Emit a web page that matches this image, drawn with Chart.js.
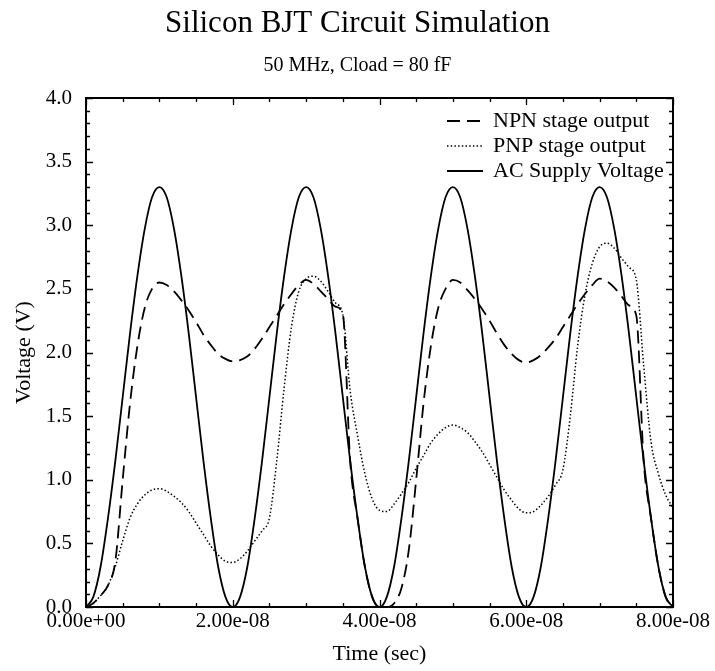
<!DOCTYPE html>
<html>
<head>
<meta charset="utf-8">
<title>Silicon BJT Circuit Simulation</title>
<script src="https://cdn.jsdelivr.net/npm/chart.js@4.4.1/dist/chart.umd.min.js"></script>
<style>
  html, body { margin: 0; padding: 0; background: #fff; }
  #wrap { width: 715px; height: 671px; }
</style>
</head>
<body>
<div id="wrap"><canvas id="bjtChart" width="715" height="671"></canvas></div>
<script>
// time axis in ns (0 .. 80 ns, every 1 ns)
const timeNs = [
  0, 1, 2, 3, 4, 5, 6, 7, 8, 9, 10,
  11, 12, 13, 14, 15, 16, 17, 18, 19, 20,
  21, 22, 23, 24, 25, 26, 27, 28, 29, 30,
  31, 32, 33, 34, 35, 36, 37, 38, 39, 40,
  41, 42, 43, 44, 45, 46, 47, 48, 49, 50,
  51, 52, 53, 54, 55, 56, 57, 58, 59, 60,
  61, 62, 63, 64, 65, 66, 67, 68, 69, 70,
  71, 72, 73, 74, 75, 76, 77, 78, 79, 80
];

// NPN stage output (V)
const npnOut = [
  0.00, 0.03, 0.09, 0.17, 0.36, 1.00, 1.60, 2.05, 2.35, 2.50, 2.55,
  2.53, 2.48, 2.41, 2.33, 2.24, 2.14, 2.06, 1.99, 1.95, 1.93,
  1.94, 1.97, 2.03, 2.11, 2.20, 2.29, 2.38, 2.46, 2.53, 2.57,
  2.54, 2.48, 2.42, 2.36, 2.30, 1.15, 0.70, 0.32, 0.08, 0.00,
  0.00, 0.03, 0.15, 0.45, 1.00, 1.60, 2.05, 2.35, 2.50, 2.57,
  2.55, 2.49, 2.42, 2.34, 2.25, 2.15, 2.06, 1.99, 1.94, 1.92,
  1.94, 1.98, 2.04, 2.11, 2.20, 2.29, 2.38, 2.46, 2.53, 2.58,
  2.56, 2.51, 2.44, 2.37, 2.29, 1.15, 0.70, 0.32, 0.08, 0.00
];

// PNP stage output (V)
const pnpOut = [
  0.00, 0.03, 0.09, 0.17, 0.32, 0.52, 0.70, 0.81, 0.88, 0.92, 0.93,
  0.91, 0.87, 0.82, 0.75, 0.66, 0.57, 0.48, 0.41, 0.36, 0.35,
  0.38, 0.44, 0.52, 0.60, 0.70, 1.15, 1.72, 2.20, 2.48, 2.58,
  2.60, 2.56, 2.48, 2.39, 2.30, 1.70, 1.35, 1.05, 0.85, 0.76,
  0.75, 0.81, 0.89, 0.98, 1.09, 1.19, 1.29, 1.36, 1.41, 1.43,
  1.41, 1.37, 1.30, 1.22, 1.12, 1.02, 0.92, 0.84, 0.77, 0.74,
  0.75, 0.80, 0.87, 0.96, 1.08, 1.50, 2.05, 2.45, 2.70, 2.83,
  2.86, 2.82, 2.74, 2.67, 2.57, 1.90, 1.30, 1.05, 0.88, 0.78
];

// AC supply voltage (V)
const acSupply = [
  0.00, 0.08, 0.32, 0.70, 1.15, 1.65, 2.15, 2.60, 2.97, 3.22, 3.30,
  3.22, 2.97, 2.60, 2.15, 1.65, 1.15, 0.70, 0.32, 0.08, 0.00,
  0.08, 0.32, 0.70, 1.15, 1.65, 2.15, 2.60, 2.97, 3.22, 3.30,
  3.22, 2.97, 2.60, 2.15, 1.65, 1.15, 0.70, 0.32, 0.08, 0.00,
  0.08, 0.32, 0.70, 1.15, 1.65, 2.15, 2.60, 2.97, 3.22, 3.30,
  3.22, 2.97, 2.60, 2.15, 1.65, 1.15, 0.70, 0.32, 0.08, 0.00,
  0.08, 0.32, 0.70, 1.15, 1.65, 2.15, 2.60, 2.97, 3.22, 3.30,
  3.22, 2.97, 2.60, 2.15, 1.65, 1.15, 0.70, 0.32, 0.08, 0.00
];

const seriesLabels = ['NPN stage output', 'PNP stage output', 'AC Supply Voltage'];

const serif = "'Liberation Serif', 'Times New Roman', serif";

// 2.00e-08 style labels
function sciLabel(ns) {
  const v = ns * 1e-9;
  if (v === 0) return '0.00e+00';
  const exp = Math.floor(Math.log10(Math.abs(v)) + 1e-9);
  const mant = v / Math.pow(10, exp);
  const sign = exp < 0 ? '-' : '+';
  return mant.toFixed(2) + 'e' + sign + String(Math.abs(exp)).padStart(2, '0');
}

function toPoints(values) {
  return timeNs.map((t, i) => ({ x: t, y: values[i] }));
}

// box round the plot with small ticks pointing inwards on all four sides
const frameTicks = {
  id: 'frameTicks',
  afterDatasetsDraw(chart) {
    const { ctx, chartArea: a, scales: { x, y } } = chart;
    ctx.save();
    ctx.strokeStyle = '#000';
    ctx.lineWidth = 1.3;
    ctx.beginPath();
    for (let v = 0; v <= 80; v += 5) {
      const px = Math.round(x.getPixelForValue(v)) + 0.5;
      const len = v % 20 === 0 ? 7 : 4;
      ctx.moveTo(px, a.bottom); ctx.lineTo(px, a.bottom - len);
      ctx.moveTo(px, a.top); ctx.lineTo(px, a.top + len);
    }
    for (let k = 0; k <= 40; k++) {
      const py = Math.round(y.getPixelForValue(k / 10)) + 0.5;
      const len = k % 5 === 0 ? 7 : 4;
      ctx.moveTo(a.left, py); ctx.lineTo(a.left + len, py);
      ctx.moveTo(a.right, py); ctx.lineTo(a.right - len, py);
    }
    ctx.stroke();
    ctx.lineWidth = 2;
    ctx.strokeRect(a.left, a.top, a.right - a.left, a.bottom - a.top);
    ctx.restore();
  }
};

// legend drawn inside the top right corner of the plot
const innerLegend = {
  id: 'innerLegend',
  afterDraw(chart) {
    const { ctx, chartArea: a } = chart;
    ctx.save();
    ctx.font = '22px ' + serif;
    ctx.fillStyle = '#000';
    ctx.textBaseline = 'middle';
    ctx.textAlign = 'left';
    chart.data.datasets.forEach((ds, i) => {
      const rowY = a.top + 23 + i * 25;
      ctx.strokeStyle = '#000';
      ctx.lineWidth = ds.borderWidth;
      ctx.setLineDash(ds.borderDash || []);
      ctx.beginPath();
      ctx.moveTo(a.right - 226, rowY);
      ctx.lineTo(a.right - 190, rowY);
      ctx.stroke();
      ctx.setLineDash([]);
      ctx.fillText(ds.label, a.right - 180, rowY);
    });
    ctx.restore();
  }
};

const ctx = document.getElementById('bjtChart').getContext('2d');
new Chart(ctx, {
  type: 'line',
  data: {
    datasets: [
      {
        label: seriesLabels[0],
        data: toPoints(npnOut),
        borderColor: '#000',
        borderWidth: 1.8,
        borderDash: [13, 7],
        pointRadius: 0,
        cubicInterpolationMode: 'monotone',
        fill: false
      },
      {
        label: seriesLabels[1],
        data: toPoints(pnpOut),
        borderColor: '#000',
        borderWidth: 1.5,
        borderDash: [1.5, 2.2],
        pointRadius: 0,
        cubicInterpolationMode: 'monotone',
        fill: false
      },
      {
        label: seriesLabels[2],
        data: toPoints(acSupply),
        borderColor: '#000',
        borderWidth: 1.8,
        pointRadius: 0,
        cubicInterpolationMode: 'monotone',
        fill: false
      }
    ]
  },
  options: {
    responsive: false,
    animation: false,
    devicePixelRatio: 1,
    layout: { padding: 0 },
    plugins: {
      legend: { display: false },
      tooltip: { enabled: false },
      title: {
        display: true,
        text: 'Silicon BJT Circuit Simulation',
        color: '#000',
        font: { family: serif, size: 31, weight: 'normal' },
        padding: { top: 5, bottom: 0 }
      },
      subtitle: {
        display: true,
        text: '50 MHz, Cload = 80 fF',
        color: '#000',
        font: { family: serif, size: 20, weight: 'normal' },
        padding: { top: 12, bottom: 19.8 }
      }
    },
    scales: {
      x: {
        type: 'linear',
        min: 0,
        max: 80,
        grid: { display: false, drawTicks: false },
        border: { display: false },
        ticks: {
          stepSize: 20,
          color: '#000',
          padding: 2,
          maxRotation: 0,
          font: { family: serif, size: 21 },
          callback: (value) => sciLabel(value)
        },
        title: {
          display: true,
          text: 'Time (sec)',
          color: '#000',
          font: { family: serif, size: 22 },
          padding: { top: 0, bottom: 4 }
        },
        afterFit(scale) { scale.height = 64; }
      },
      y: {
        min: 0,
        max: 4,
        grid: { display: false, drawTicks: false },
        border: { display: false },
        ticks: {
          stepSize: 0.5,
          color: '#000',
          padding: 14,
          font: { family: serif, size: 21 },
          callback: (value) => value.toFixed(1)
        },
        title: {
          display: true,
          text: 'Voltage (V)',
          color: '#000',
          font: { family: serif, size: 22 },
          padding: { top: 11, bottom: 0 }
        },
        afterFit(scale) { scale.width = 86; }
      },
      // empty right-hand strip so the plot ends where the reference does
      yRight: {
        position: 'right',
        min: 0,
        max: 4,
        grid: { display: false, drawTicks: false },
        border: { display: false },
        ticks: { display: false },
        afterFit(scale) { scale.width = 42; }
      }
    }
  },
  plugins: [frameTicks, innerLegend]
});
</script>
</body>
</html>
